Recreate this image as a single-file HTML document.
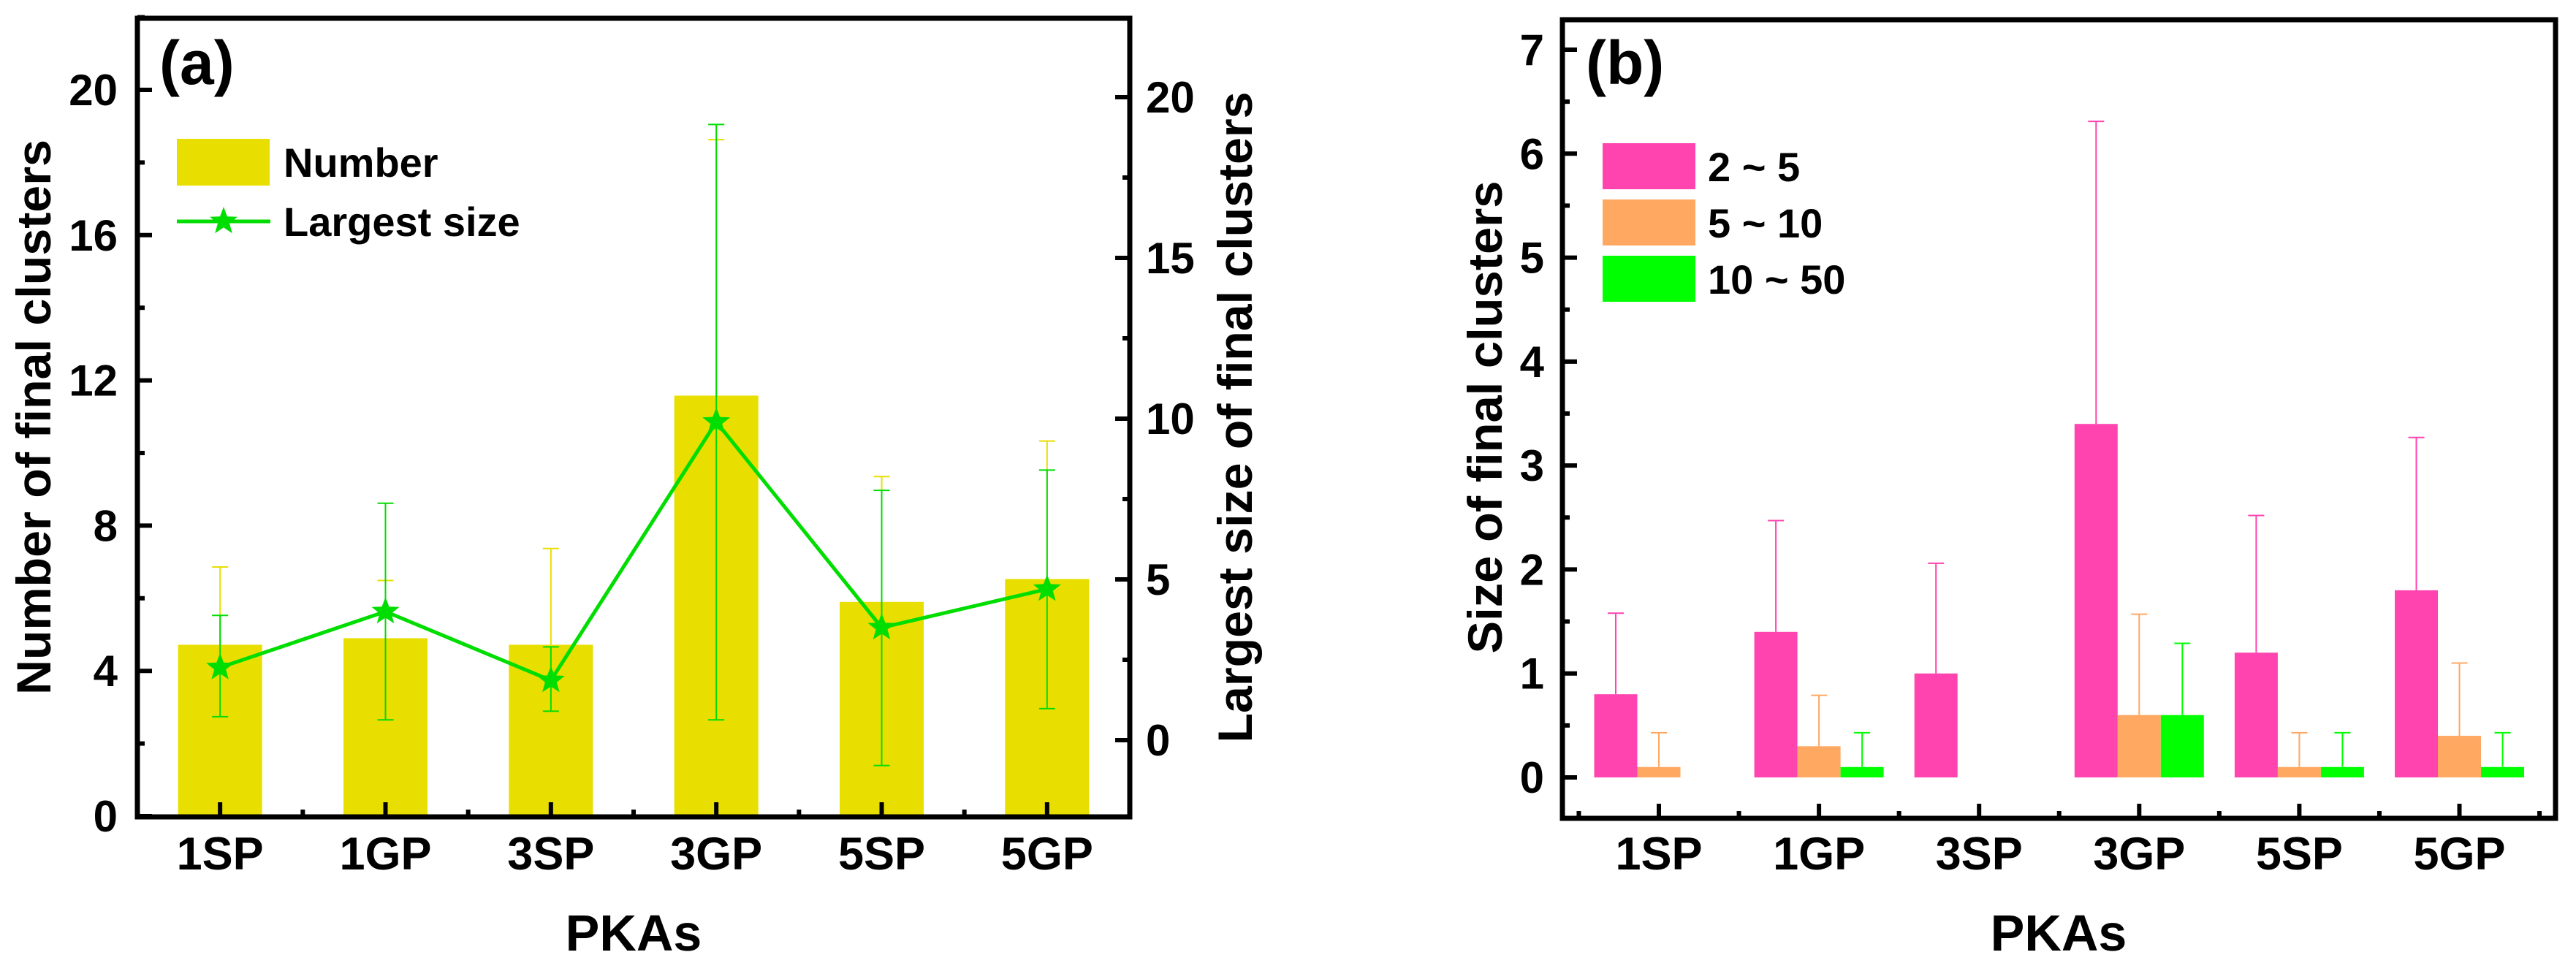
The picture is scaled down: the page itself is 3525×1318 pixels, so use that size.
<!DOCTYPE html>
<html><head><meta charset="utf-8"><style>
html,body{margin:0;padding:0;background:#fff;}
svg{display:block;font-family:"Liberation Sans",Arial,sans-serif;font-weight:bold;}
</style></head><body>
<svg id="chart" width="3525" height="1318" viewBox="0 0 3525 1318" xmlns="http://www.w3.org/2000/svg">
<g id="pa"></g>
<g id="pb"></g>
</svg>
<script>
// Panel (a) data
const catsA = ["1SP","1GP","3SP","3GP","5SP","5GP"];
const numberVals = [4.72, 4.9, 4.72, 11.58, 5.9, 6.53];
const numberErrTop = [6.86, 6.49, 7.37, 18.63, 9.35, 10.33];
const largestVals = [2.26, 4.0, 1.86, 9.9, 3.5, 4.7];
const largestErrTop = [3.88, 7.37, 2.9, 19.15, 7.77, 8.4];
const largestErrBot = [0.73, 0.63, 0.9, 0.63, -0.79, 0.98];
const leftTicksA = [0, 4, 8, 12, 16, 20];
const rightTicksA = [0, 5, 10, 15, 20];
// Panel (b) data
const catsB = ["1SP","1GP","3SP","3GP","5SP","5GP"];
const seriesNames = ["2 ~ 5","5 ~ 10","10 ~ 50"];
const pinkVals = [0.8, 1.4, 1.0, 3.4, 1.2, 1.8];
const pinkErr = [1.58, 2.47, 2.06, 6.31, 2.52, 3.27];
const orangeVals = [0.1, 0.3, 0, 0.6, 0.1, 0.4];
const orangeErr = [0.43, 0.79, null, 1.57, 0.43, 1.1];
const greenVals = [0, 0.1, 0, 0.6, 0.1, 0.1];
const greenErr = [null, 0.43, null, 1.29, 0.43, 0.43];
const ticksB = [0, 1, 2, 3, 4, 5, 6, 7];

const NS = "http://www.w3.org/2000/svg";
function mk(parent, tag, attrs, text) {
  const e = document.createElementNS(NS, tag);
  for (const k in attrs) e.setAttribute(k, attrs[k]);
  if (text !== undefined) e.textContent = text;
  parent.appendChild(e);
  return e;
}
function star(cx, cy, r) {
  let p = [];
  for (let i = 0; i < 10; i++) {
    const a = -Math.PI / 2 + i * Math.PI / 5;
    const rr = i % 2 ? r * 0.42 : r;
    p.push((cx + rr * Math.cos(a)).toFixed(1) + "," + (cy + rr * Math.sin(a)).toFixed(1));
  }
  return p.join(" ");
}

// ---------- Panel A ----------
const pa = document.getElementById("pa");
const A = {l:188, r:1546, t:25, b:1118};
const xA = i => A.l + (i + 0.5) * (A.r - A.l) / 6;
const yL = v => 1117 - v * (1117 - 123) / 20;
const yR = v => 1013 - v * 44;
const yellow = "#E8DF00", lgreen = "#00DD00";

catsA.forEach((c, i) => {
  const w = 115;
  const bar = mk(pa, "rect", {x: xA(i) - w/2, y: yL(numberVals[i]), width: w, height: yL(0) - yL(numberVals[i]), fill: yellow});
  
  
  const eb = mk(pa, "path", {d: `M${xA(i)},${yL(numberVals[i])}V${yL(numberErrTop[i])}M${xA(i)-11},${yL(numberErrTop[i])}H${xA(i)+11}`, stroke: yellow, "stroke-width": 2, fill: "none"});
  
  
});
catsA.forEach((c, i) => {
  const x = xA(i), t = yR(largestErrTop[i]), b = yR(largestErrBot[i]);
  const eb = mk(pa, "path", {d: `M${x},${t}V${b}M${x-11},${t}H${x+11}M${x-11},${b}H${x+11}`, stroke: lgreen, "stroke-width": 2, fill: "none"});
  
  
});
const line = mk(pa, "polyline", {points: largestVals.map((v, i) => xA(i) + "," + yR(v)).join(" "), stroke: lgreen, "stroke-width": 5, fill: "none", "stroke-linejoin": "round"});


largestVals.forEach((v, i) => {
  const s = mk(pa, "polygon", {points: star(xA(i), yR(v), 20), fill: lgreen});
  
  
});
// frame
const fa = mk(pa, "rect", {x: A.l, y: A.t, width: A.r - A.l, height: A.b - A.t, fill: "none", stroke: "#000", "stroke-width": 7});


// left ticks
for (let v = 0; v <= 22; v += 2) {
  const maj = v % 4 === 0;
  mk(pa, "line", {x1: A.l, x2: A.l + (maj ? 20 : 10), y1: yL(v), y2: yL(v), stroke: "#000", "stroke-width": 6});
}
leftTicksA.forEach(v => {
  const t = mk(pa, "text", {x: 161, y: yL(v) + 21, "text-anchor": "end", "font-size": 60}, String(v));
  
  
});
for (let v = -2.5; v <= 22.5; v += 2.5) {
  if (yR(v) > A.b - 3 || yR(v) < A.t + 3) continue;
  const maj = Math.abs(v % 5) < 0.01;
  mk(pa, "line", {x1: A.r, x2: A.r - (maj ? 20 : 10), y1: yR(v), y2: yR(v), stroke: "#000", "stroke-width": 6});
}
rightTicksA.forEach(v => {
  const t = mk(pa, "text", {x: 1568, y: yR(v) + 21, "text-anchor": "start", "font-size": 60}, String(v));
  
  
});
// x ticks
catsA.forEach((c, i) => {
  mk(pa, "line", {x1: xA(i), x2: xA(i), y1: A.b, y2: A.b - 20, stroke: "#000", "stroke-width": 6});
  if (i < 5) mk(pa, "line", {x1: xA(i + 0.5), x2: xA(i + 0.5), y1: A.b, y2: A.b - 10, stroke: "#000", "stroke-width": 6});
  const t = mk(pa, "text", {x: xA(i), y: 1190, "text-anchor": "middle", "font-size": 63}, c);
  
  
});
let tt = mk(pa, "text", {x: 867, y: 1301, "text-anchor": "middle", "font-size": 70}, "PKAs");
 
tt = mk(pa, "text", {x: 0, y: 0, "text-anchor": "middle", "font-size": 66, transform: "translate(69,571) rotate(-90)", textLength: 760, lengthAdjust: "spacingAndGlyphs"}, "Number of final clusters");
 
tt = mk(pa, "text", {x: 0, y: 0, "text-anchor": "middle", "font-size": 66, transform: "translate(1713,571) rotate(-90)", textLength: 891, lengthAdjust: "spacingAndGlyphs"}, "Largest size of final clusters");
 
tt = mk(pa, "text", {x: 218, y: 115, "font-size": 84}, "(a)");
 
// legend A
let lg = mk(pa, "rect", {x: 242, y: 190, width: 127, height: 64, fill: yellow});
 
tt = mk(pa, "text", {x: 388, y: 242, "font-size": 56}, "Number");
 
lg = mk(pa, "line", {x1: 242, x2: 370, y1: 303, y2: 303, stroke: lgreen, "stroke-width": 5});
 
mk(pa, "polygon", {points: star(306, 303, 20), fill: lgreen});
tt = mk(pa, "text", {x: 388, y: 323, "font-size": 56}, "Largest size");
 

// ---------- Panel B ----------
const pb = document.getElementById("pb");
const B = {l:2138, r:3497, t:27, b:1120};
const xB = i => 2270 + i * 219.1;
const yB = v => 1064 - v * (1064 - 68) / 7;
const colors = ["#FF44B0", "#FFA862", "#00FF00"];
const vals = [pinkVals, orangeVals, greenVals];
const errs = [pinkErr, orangeErr, greenErr];
const bw = 59;
catsB.forEach((c, i) => {
  for (let s = 0; s < 3; s++) {
    const cx = xB(i) + (s - 1) * bw;
    const v = vals[s][i];
    if (v > 0) {
      const r = mk(pb, "rect", {x: cx - bw/2, y: yB(v), width: bw, height: yB(0) - yB(v), fill: colors[s]});
      
      
    }
    const e = errs[s][i];
    if (e !== null) {
      const p = mk(pb, "path", {d: `M${cx},${yB(v)}V${yB(e)}M${cx-11},${yB(e)}H${cx+11}`, stroke: colors[s], "stroke-width": 2, fill: "none"});
      
      
    }
  }
});
const fb = mk(pb, "rect", {x: B.l, y: B.t, width: B.r - B.l, height: B.b - B.t, fill: "none", stroke: "#000", "stroke-width": 7});


for (let v = 0; v <= 7; v += 0.5) {
  const maj = v % 1 === 0;
  mk(pb, "line", {x1: B.l, x2: B.l + (maj ? 20 : 10), y1: yB(v), y2: yB(v), stroke: "#000", "stroke-width": 6});
}
ticksB.forEach(v => {
  const t = mk(pb, "text", {x: 2113, y: yB(v) + 21, "text-anchor": "end", "font-size": 60}, String(v));
  
  
});
catsB.forEach((c, i) => {
  mk(pb, "line", {x1: xB(i), x2: xB(i), y1: B.b, y2: B.b - 20, stroke: "#000", "stroke-width": 6});
  mk(pb, "line", {x1: xB(i - 0.5), x2: xB(i - 0.5), y1: B.b, y2: B.b - 10, stroke: "#000", "stroke-width": 6});
  if (i === 5) mk(pb, "line", {x1: xB(5.5), x2: xB(5.5), y1: B.b, y2: B.b - 10, stroke: "#000", "stroke-width": 6});
  const t = mk(pb, "text", {x: xB(i), y: 1190, "text-anchor": "middle", "font-size": 63}, c);
  
  
});
tt = mk(pb, "text", {x: 2817, y: 1301, "text-anchor": "middle", "font-size": 70}, "PKAs");
 
tt = mk(pb, "text", {x: 0, y: 0, "text-anchor": "middle", "font-size": 66, transform: "translate(2055,571) rotate(-90)", textLength: 647, lengthAdjust: "spacingAndGlyphs"}, "Size of final clusters");
 
tt = mk(pb, "text", {x: 2170, y: 115, "font-size": 84}, "(b)");
 
const legY = [196, 273, 350];
seriesNames.forEach((n, s) => {
  const r = mk(pb, "rect", {x: 2193, y: legY[s], width: 127, height: 63, fill: colors[s]});
  
  
  const t = mk(pb, "text", {x: 2337, y: legY[s] + 52, "font-size": 56}, n);
  
  
});
</script>
</body></html>
